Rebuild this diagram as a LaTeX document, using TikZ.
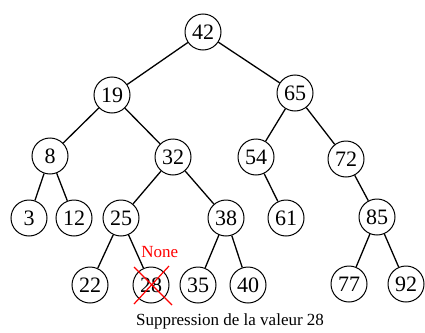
\documentclass[tikz,border=0pt]{standalone}
\usepackage{tikz}
\usepackage{xcolor}
\usepackage{fontspec}
\setmainfont{Liberation Serif}

\begin{document}
\begin{tikzpicture}[x=1pt,y=1pt,yscale=-1,xscale=1,
  key/.style={draw,circle,line width=1pt,minimum size=36pt,inner sep=0pt,font=\fontsize{22}{22}\selectfont},
  edge/.style={line width=1.3pt},
  cross/.style={draw=red,line width=1.2pt}]
\useasboundingbox (0,0) rectangle (425,332);
% Nodes, level 0 and 1
\node [key] (k42) at (203,32) {42};
\node [key] (k19) at (112,95) {19};
\node [key] (k65) at (295,93) {65};
% Level 2
\node [key] (k8) at (50,156) {8};
\node [key] (k32) at (173,157) {32};
\node [key] (k54) at (256,157) {54};
\node [key] (k72) at (346,159) {72};
% Level 3
\node [key] (k3) at (29,218) {3};
\node [key] (k12) at (74,218) {12};
\node [key] (k25) at (121,218) {25};
\node [key] (k38) at (226,218) {38};
\node [key] (k61) at (286,218) {61};
\node [key] (k85) at (377,217) {85};
% Level 4
\node [key] (k22) at (90,285) {22};
\node [key] (k28) at (151,285) {28};
\node [key] (k35) at (198,285) {35};
\node [key] (k40) at (248,285) {40};
\node [key] (k77) at (349,284) {77};
\node [key] (k92) at (406,284) {92};

% Edges
\draw [edge] (k42) -- (k19);
\draw [edge] (k42) -- (k65);
\draw [edge] (k19) -- (k8);
\draw [edge] (k19) -- (k32);
\draw [edge] (k65) -- (k54);
\draw [edge] (k65) -- (k72);
\draw [edge] (k8) -- (k3);
\draw [edge] (k8) -- (k12);
\draw [edge] (k32) -- (k25);
\draw [edge] (k32) -- (k38);
\draw [edge] (k54) -- (k61);
\draw [edge] (k72) -- (k85);
\draw [edge] (k25) -- (k22);
\draw [edge] (k25) -- node [pos=0.55,anchor=west,xshift=3pt,yshift=1pt,inner sep=1pt,fill=white,text=red,font=\fontsize{17}{17}\selectfont] (none) {None} (k28);
\draw [edge] (k38) -- (k35);
\draw [edge] (k38) -- (k40);
\draw [edge] (k85) -- (k77);
\draw [edge] (k85) -- (k92);

% Deleted key
\coordinate (c1) at (134,267);
\coordinate (c2) at (172,305);
\coordinate (c3) at (169,266);
\coordinate (c4) at (134,304);
\draw [cross] (c1) -- (c2);
\draw [cross] (c3) -- (c4);

% Caption
\node (caption) at (230,321) [font=\fontsize{17}{17}\selectfont] {Suppression de la valeur 28};
\end{tikzpicture}
\end{document}
